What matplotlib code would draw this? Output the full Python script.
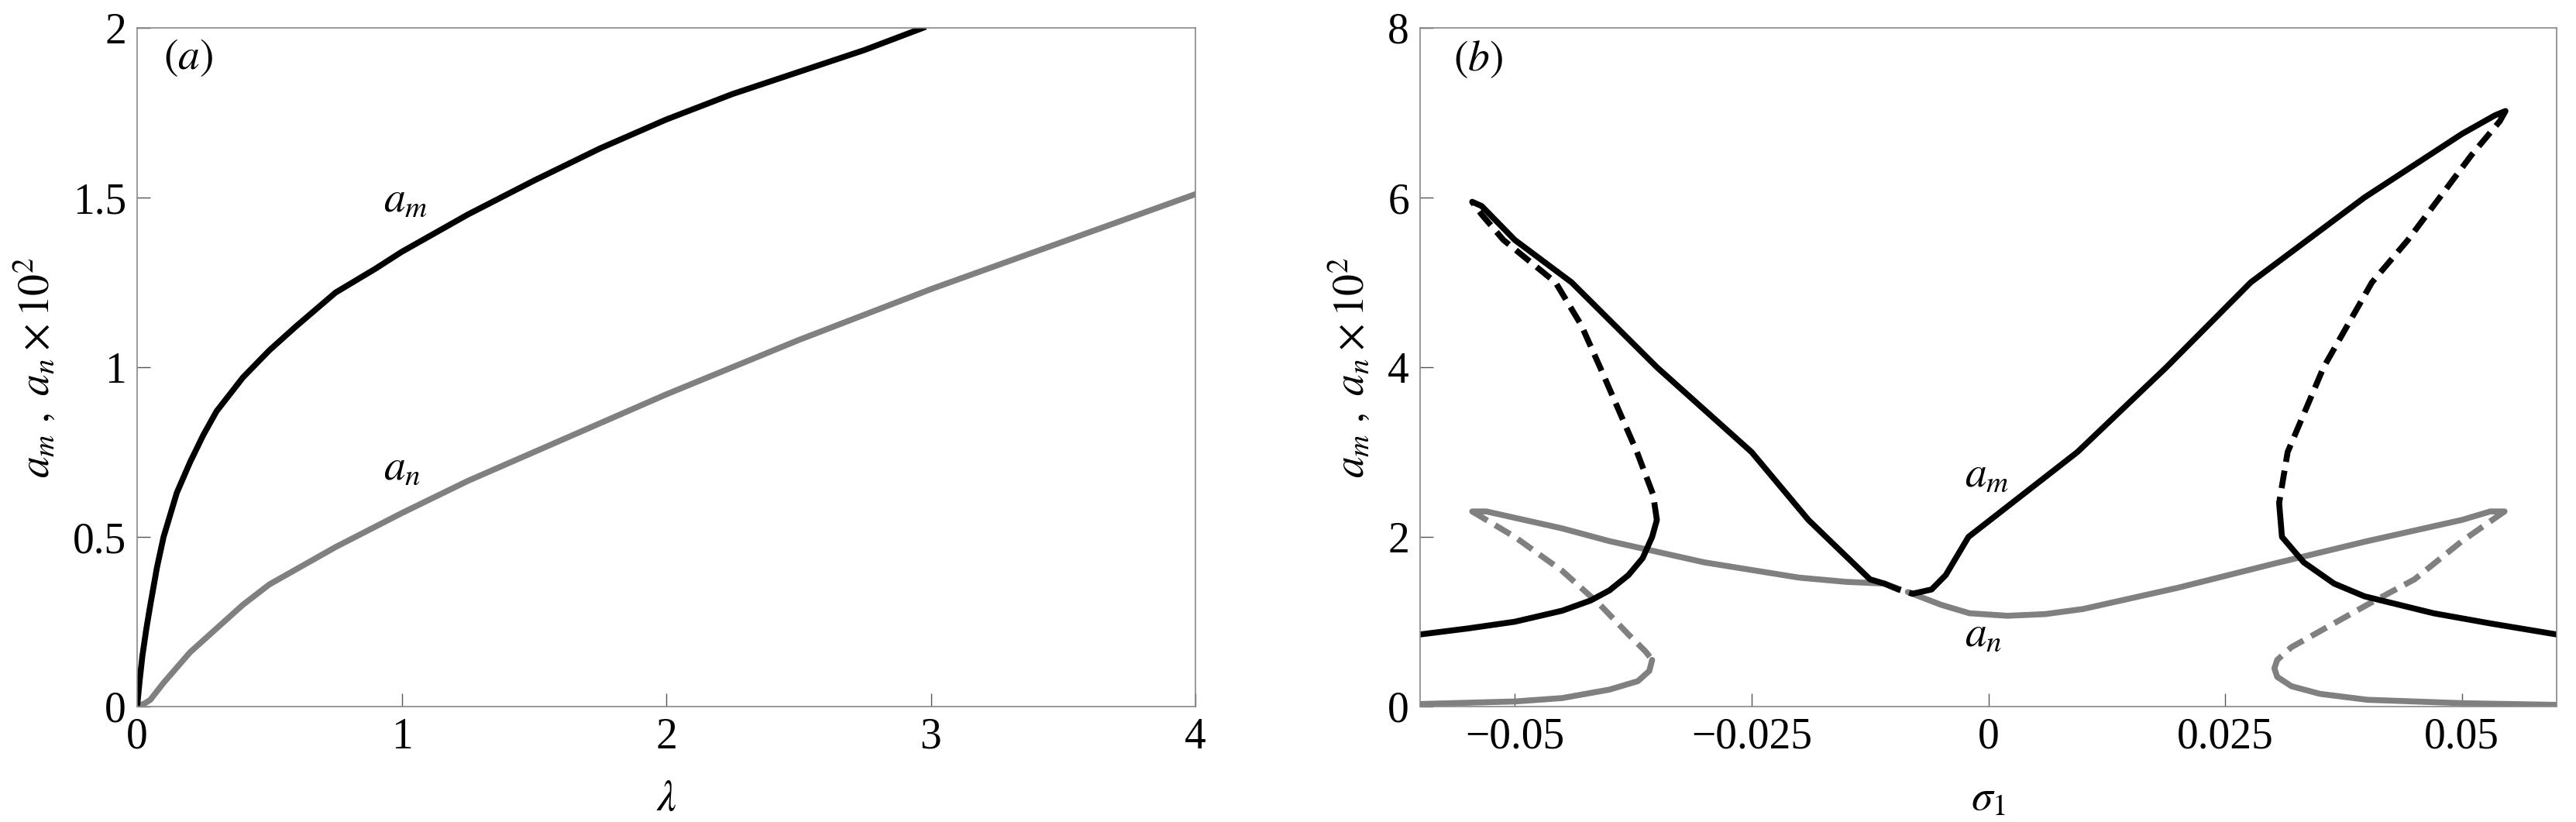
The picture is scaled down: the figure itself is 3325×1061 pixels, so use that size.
import matplotlib
matplotlib.use("Agg")
import matplotlib.pyplot as plt

plt.rcParams['font.family'] = ['Liberation Serif', 'DejaVu Serif']
plt.rcParams['mathtext.fontset'] = 'stix'

# Panel (a)
lam_m = [0, 0.01, 0.02, 0.035, 0.05, 0.075, 0.1, 0.15, 0.2, 0.25, 0.3, 0.4, 0.5, 0.6, 0.75, 0.9,
         1.0, 1.25, 1.5, 1.75, 2.0, 2.25, 2.5, 2.75, 2.97]
am_a = [0, 0.08, 0.15, 0.23, 0.3, 0.41, 0.5, 0.63, 0.72, 0.8, 0.87, 0.97, 1.05, 1.12, 1.22, 1.29,
        1.34, 1.45, 1.55, 1.645, 1.73, 1.805, 1.87, 1.935, 2.0]
lam_n = [0, 0.03, 0.05, 0.1, 0.15, 0.2, 0.3, 0.4, 0.5, 0.75, 1.0, 1.25, 1.5, 1.75, 2.0, 2.5, 3.0, 3.5, 4.0]
an_a = [0, 0.01, 0.02, 0.07, 0.115, 0.16, 0.23, 0.3, 0.36, 0.47, 0.57, 0.665, 0.75, 0.835, 0.92,
        1.08, 1.23, 1.37, 1.51]

# Panel (b) black (a_m) branches
bm_lo_l_x = [-0.06, -0.055, -0.05, -0.045, -0.042, -0.04, -0.038, -0.0365, -0.0355, -0.035]
bm_lo_l_y = [0.85, 0.92, 1.0, 1.13, 1.25, 1.37, 1.55, 1.75, 2.0, 2.2]
bm_da_l_x = [-0.035, -0.0354, -0.0371, -0.041, -0.043, -0.0457, -0.0512, -0.0535, -0.0545]
bm_da_l_y = [2.2, 2.5, 3.0, 4.0, 4.5, 5.0, 5.5, 5.8, 5.95]
bm_de_x = [-0.0545, -0.0535, -0.05, -0.044, -0.035, -0.025, -0.019, -0.0125, -0.011]
bm_de_y = [5.95, 5.9, 5.5, 5.0, 4.0, 3.0, 2.2, 1.5, 1.45]
bm_mid_x = [-0.011, -0.0095, -0.008]
bm_mid_y = [1.45, 1.38, 1.33]
bm_up_x = [-0.008, -0.006, -0.0045, -0.0021, 0.0094, 0.0188, 0.0277, 0.0397, 0.05, 0.0535, 0.0546]
bm_up_y = [1.33, 1.38, 1.55, 2.0, 3.0, 4.0, 5.0, 6.0, 6.75, 6.97, 7.02]
bm_da_r_x = [0.0546, 0.054, 0.051, 0.0443, 0.0405, 0.0354, 0.0316, 0.0307]
bm_da_r_y = [7.02, 6.9, 6.5, 5.5, 5.0, 4.0, 3.0, 2.4]
bm_lo_r_x = [0.0307, 0.031, 0.0333, 0.0365, 0.0397, 0.047, 0.053, 0.06]
bm_lo_r_y = [2.4, 2.0, 1.7, 1.45, 1.3, 1.1, 0.98, 0.85]

# Panel (b) gray (a_n) branches
gn_up_l_x = [-0.0545, -0.053, -0.045, -0.04, -0.03, -0.02, -0.015, -0.011]
gn_up_l_y = [2.3, 2.3, 2.1, 1.95, 1.7, 1.52, 1.47, 1.45]
gn_mid_x = [-0.011, -0.0085]
gn_mid_y = [1.45, 1.35]
gn_up_r_x = [-0.0085, -0.005, -0.002, 0.002, 0.006, 0.01, 0.02, 0.03, 0.04, 0.05, 0.053, 0.0545]
gn_up_r_y = [1.35, 1.2, 1.1, 1.07, 1.09, 1.15, 1.4, 1.68, 1.95, 2.2, 2.3, 2.3]
gn_da_l_x = [-0.0545, -0.05, -0.045, -0.041, -0.038, -0.0362, -0.0355]
gn_da_l_y = [2.3, 2.0, 1.6, 1.2, 0.85, 0.65, 0.55]
gn_lo_l_x = [-0.0355, -0.0358, -0.037, -0.04, -0.045, -0.05, -0.06]
gn_lo_l_y = [0.55, 0.42, 0.3, 0.2, 0.1, 0.06, 0.03]
gn_da_r_x = [0.0545, 0.05, 0.045, 0.040, 0.036, 0.032, 0.0305, 0.0302]
gn_da_r_y = [2.3, 1.95, 1.5, 1.2, 0.95, 0.7, 0.55, 0.45]
gn_lo_r_x = [0.0302, 0.0305, 0.032, 0.035, 0.04, 0.05, 0.06]
gn_lo_r_y = [0.45, 0.35, 0.24, 0.15, 0.08, 0.04, 0.02]

xt_a = [0, 1, 2, 3, 4]
yt_a = [0, 0.5, 1, 1.5, 2]
yt_a_lab = ['0', '0.5', '1', '1.5', '2']
xt_b = [-0.05, -0.025, 0, 0.025, 0.05]
xt_b_lab = ['\u22120.05', '\u22120.025', '0', '0.025', '0.05']
yt_b = [0, 2, 4, 6, 8]

BLACK = '#000000'
GRAY = '#808080'
LW = 5.5
FS = 40

fig = plt.figure(figsize=(33.25, 10.61), dpi=100)
axa = fig.add_axes([177/3325, 1 - 912/1061, (1543-177)/3325, (912-36)/1061])
axb = fig.add_axes([1833/3325, 1 - 912/1061, (3300-1833)/3325, (912-36)/1061])

axa.plot(lam_n, an_a, color=GRAY, lw=LW)
axa.plot(lam_m, am_a, color=BLACK, lw=LW)
axa.set_xlim(0, 4); axa.set_ylim(0, 2)
axa.set_xticks(xt_a); axa.set_yticks(yt_a); axa.set_yticklabels(yt_a_lab)
axa.set_xlabel(r'$\lambda$', fontsize=FS, labelpad=20)
axa.text(0.93, 1.46, r'$a_m$', fontsize=FS)
axa.text(0.93, 0.67, r'$a_n$', fontsize=FS)
axa.text(0.1, 1.88, r'$(a)$', fontsize=FS)

solid_b = [(bm_lo_l_x, bm_lo_l_y), (bm_de_x, bm_de_y), (bm_up_x, bm_up_y), (bm_lo_r_x, bm_lo_r_y)]
dash_b = [(bm_da_l_x, bm_da_l_y), (bm_mid_x, bm_mid_y), (bm_da_r_x, bm_da_r_y)]
solid_g = [(gn_up_l_x, gn_up_l_y), (gn_up_r_x, gn_up_r_y), (gn_lo_l_x, gn_lo_l_y), (gn_lo_r_x, gn_lo_r_y)]
dash_g = [(gn_da_l_x, gn_da_l_y), (gn_mid_x, gn_mid_y), (gn_da_r_x, gn_da_r_y)]
for x, y in solid_g:
    axb.plot(x, y, color=GRAY, lw=LW, solid_capstyle='round')
for x, y in dash_g:
    axb.plot(x, y, color=GRAY, lw=LW, ls=(0, (3, 1.5)))
for x, y in solid_b:
    axb.plot(x, y, color=BLACK, lw=LW, solid_capstyle='round')
for x, y in dash_b:
    axb.plot(x, y, color=BLACK, lw=LW, ls=(0, (3, 1.5)))
axb.set_xlim(-0.06, 0.06); axb.set_ylim(0, 8)
axb.set_xticks(xt_b); axb.set_xticklabels(xt_b_lab); axb.set_yticks(yt_b)
axb.set_xlabel(r'$\sigma_1$', fontsize=FS, labelpad=20)
axb.text(-0.0025, 2.6, r'$a_m$', fontsize=FS)
axb.text(-0.0025, 0.72, r'$a_n$', fontsize=FS)
axb.text(-0.0565, 7.5, r'$(b)$', fontsize=FS)

for ax in (axa, axb):
    ax.set_ylabel(r'$a_m\ ,\ a_n \times 10^2$', fontsize=FS, labelpad=14)
    ax.tick_params(direction='in', length=12, width=1, labelsize=FS, pad=10,
                   top=False, right=False, colors='#555555', labelcolor='black')
    for s in ax.spines.values():
        s.set_color('#888888'); s.set_linewidth(1.2)

fig.savefig('out.png', dpi=100)
